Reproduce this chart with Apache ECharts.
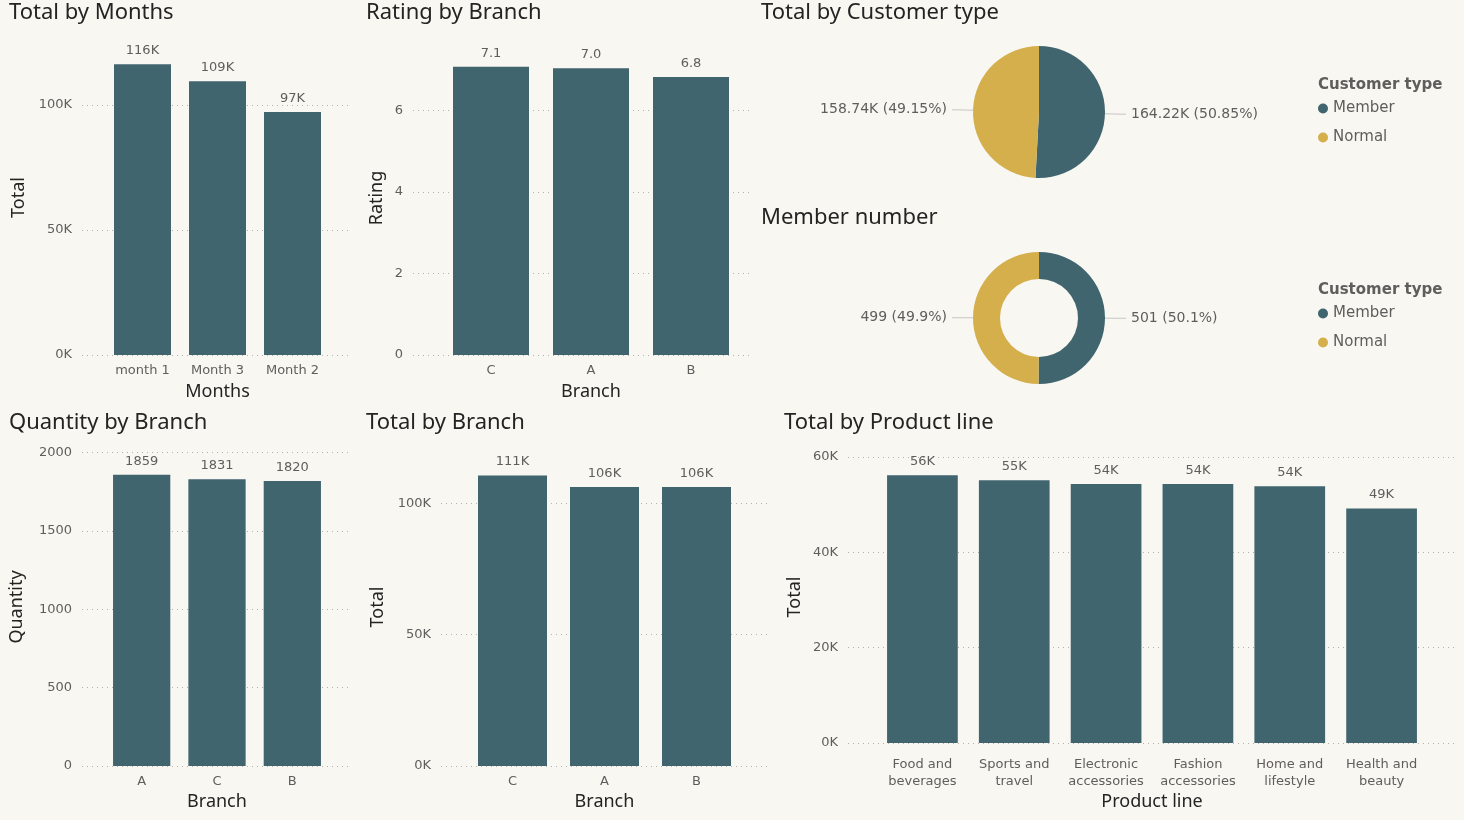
<!DOCTYPE html>
<html>
<head>
<meta charset="utf-8">
<title>Sales dashboard</title>
<script src="https://cdn.jsdelivr.net/npm/echarts@6/dist/echarts.min.js"></script>
<style>
html,body{margin:0;padding:0;background:#f8f7f2;}
#main{width:1464px;height:820px;}
</style>
</head>
<body>
<div id="main"></div>
<script>
// ---------- data ----------
var monthNames = ['month 1', 'Month 3', 'Month 2'];
var monthTotal = [116291.87, 109455.51, 97219.37];

var ratingBranch = ['C', 'A', 'B'];
var ratingValue = [7.07, 7.03, 6.82];

var qtyBranch = ['A', 'C', 'B'];
var qtyValue = [1859, 1831, 1820];

var totalBranch = ['C', 'A', 'B'];
var totalValue = [110568.71, 106200.37, 106197.67];

var productNames = ['Food and\nbeverages', 'Sports and\ntravel', 'Electronic\naccessories',
                    'Fashion\naccessories', 'Home and\nlifestyle', 'Health and\nbeauty'];
var productTotal = [56144.84, 55122.83, 54337.53, 54305.90, 53861.91, 49193.74];

var customerTypes = ['Member', 'Normal'];
var customerTotal = [164223.44, 158743.31];
var memberCount = [501, 499];

// ---------- styles ----------
var TEAL = '#41656e';
var GOLD = '#d4af4c';
var DARK = '#252423';
var GREY = '#605e5c';
var labelFont = 'DejaVu Sans';
var headFont = 'Noto Sans';

function kFmt(v){ return Math.round(v / 1000) + 'K'; }

var grids = [], xAxes = [], yAxes = [], series = [], titles = [];

function addTitle(text, left, top){
	titles.push({text: text, left: left, top: top, padding: 0,
		textStyle: {fontFamily: headFont, fontSize: 22, fontWeight: 'normal', color: DARK}});
}

// one bar chart = a wide grid for the dotted lines + y labels, and a narrower grid for bars
function addBar(o){
	var a = grids.length;
	grids.push({left: o.lineL, top: o.top, width: o.lineR - o.lineL, height: o.h});
	xAxes.push({gridIndex: a, type: 'value', show: false, min: 0, max: 1});
	yAxes.push({
		gridIndex: a, type: 'value', min: 0, max: o.max, interval: o.step,
		name: o.yName, nameLocation: 'middle', nameGap: o.yGap,
		nameTextStyle: {fontFamily: headFont, fontSize: 18, color: DARK},
		axisLine: {show: false}, axisTick: {show: false},
		axisLabel: {margin: 10, showMaxLabel: false, formatter: o.tickFmt,
			color: GREY, fontSize: 13, fontFamily: labelFont},
		splitLine: {show: true, showMaxLine: false, lineStyle: {type: [1, 4], color: '#b3b0ad', width: 1}}
	});
	var b = grids.length;
	grids.push({left: o.barL, top: o.top, width: o.barR - o.barL, height: o.h});
	xAxes.push({
		gridIndex: b, type: 'category', data: o.cats,
		name: o.xName, nameLocation: 'middle', nameGap: o.xGap,
		nameTextStyle: {fontFamily: headFont, fontSize: 18, color: DARK},
		axisLine: {show: false}, axisTick: {show: false},
		axisLabel: {interval: 0, margin: o.catMargin || 7, color: GREY, fontSize: 13,
			fontFamily: labelFont, lineHeight: 17}
	});
	yAxes.push({gridIndex: b, type: 'value', min: 0, max: o.max, show: false});
	series.push({
		type: 'bar', xAxisIndex: b, yAxisIndex: b, data: o.vals, barWidth: o.barW,
		itemStyle: {color: TEAL},
		label: {show: true, position: 'top', distance: 7, formatter: function(p){ return o.valFmt(p.value); },
			color: GREY, fontSize: 13, fontFamily: labelFont},
		emphasis: {disabled: true}
	});
	addTitle(o.title, o.titleL, o.titleT);
}

//Total by Months
addBar({title: 'Total by Months', titleL: 9, titleT: 2,
	cats: monthNames, vals: monthTotal, max: 126000, step: 50000,
	top: 40, h: 315, lineL: 82, lineR: 352, barL: 105, barR: 330, barW: '76%',
	yName: 'Total', yGap: 54, xName: 'Months', xGap: 28,
	tickFmt: kFmt, valFmt: kFmt});

//Rating by Branch
addBar({title: 'Rating by Branch', titleL: 366, titleT: 2,
	cats: ratingBranch, vals: ratingValue, max: 7.7, step: 2,
	top: 41, h: 314, lineL: 413, lineR: 750, barL: 441, barR: 741, barW: '76%',
	yName: 'Rating', yGap: 27, xName: 'Branch', xGap: 28,
	tickFmt: function(v){ return v; }, valFmt: function(v){ return v.toFixed(1); }});

//Quantity by Branch
addBar({title: 'Quantity by Branch', titleL: 9, titleT: 412,
	cats: qtyBranch, vals: qtyValue, max: 2030, step: 500,
	top: 448, h: 318, lineL: 82, lineR: 351, barL: 104, barR: 330, barW: '76%',
	yName: 'Quantity', yGap: 56, xName: 'Branch', xGap: 27,
	tickFmt: function(v){ return v; }, valFmt: function(v){ return v; }});

//Total by Branch
addBar({title: 'Total by Branch', titleL: 366, titleT: 412,
	cats: totalBranch, vals: totalValue, max: 121000, step: 50000,
	top: 448, h: 318, lineL: 441, lineR: 770, barL: 466.5, barR: 742.5, barW: '75%',
	yName: 'Total', yGap: 54, xName: 'Branch', xGap: 27,
	tickFmt: kFmt, valFmt: kFmt});

//Total by Product line
addBar({title: 'Total by Product line', titleL: 784, titleT: 412,
	cats: productNames, vals: productTotal, max: 61250, step: 20000,
	top: 451, h: 292, lineL: 848, lineR: 1455, barL: 876.5, barR: 1427.5, barW: '77%',
	yName: 'Total', yGap: 44, xName: 'Product line', xGap: 50, catMargin: 13,
	tickFmt: kFmt, valFmt: kFmt});

// ---------- pies ----------
addTitle('Total by Customer type', 761, 2);
addTitle('Member number', 761, 207);
titles.push({text: 'Customer type', left: 1318, top: 78, padding: 0,
	textStyle: {fontFamily: labelFont, fontSize: 15, fontWeight: 'bold', color: GREY}});
titles.push({text: 'Customer type', left: 1318, top: 283, padding: 0,
	textStyle: {fontFamily: labelFont, fontSize: 15, fontWeight: 'bold', color: GREY}});

var sliceColors = [TEAL, GOLD];
function pieData(vals){
	var d = [];
	for (var i = 0; i < customerTypes.length; i++) {
		d.push({name: customerTypes[i], value: vals[i], itemStyle: {color: sliceColors[i]}});
	}
	return d;
}
var pieLabel = {color: GREY, fontSize: 14, fontFamily: labelFont, padding: [5, 0, 0, 0]};
var pieLine = {length: 16, length2: 5, lineStyle: {color: '#c8c6c4', width: 1}};

series.push({
	type: 'pie', center: [1039, 112], radius: [0, 66], startAngle: 90, clockwise: true,
	data: pieData(customerTotal),
	label: Object.assign({formatter: function(p){
		return (p.value / 1000).toFixed(2) + 'K (' + p.percent.toFixed(2) + '%)';
	}}, pieLabel),
	labelLine: pieLine, emphasis: {scale: false}
});
series.push({
	type: 'pie', center: [1039, 318], radius: [39, 66], startAngle: 90, clockwise: true,
	data: pieData(memberCount),
	label: Object.assign({formatter: function(p){
		return p.value + ' (' + p.percent.toFixed(1) + '%)';
	}}, pieLabel),
	labelLine: pieLine, emphasis: {scale: false}
});

var legendBase = {orient: 'vertical', left: 1318, icon: 'circle', itemWidth: 10, itemHeight: 10,
	itemGap: 14, padding: 0, data: customerTypes,
	textStyle: {color: GREY, fontSize: 15, fontFamily: labelFont}};

var myChart = echarts.init(document.getElementById('main'));
myChart.setOption({
	backgroundColor: '#f8f7f2',
	animation: false,
	title: titles,
	legend: [Object.assign({top: 101}, legendBase), Object.assign({top: 306}, legendBase)],
	grid: grids,
	xAxis: xAxes,
	yAxis: yAxes,
	series: series
});
</script>
</body>
</html>
